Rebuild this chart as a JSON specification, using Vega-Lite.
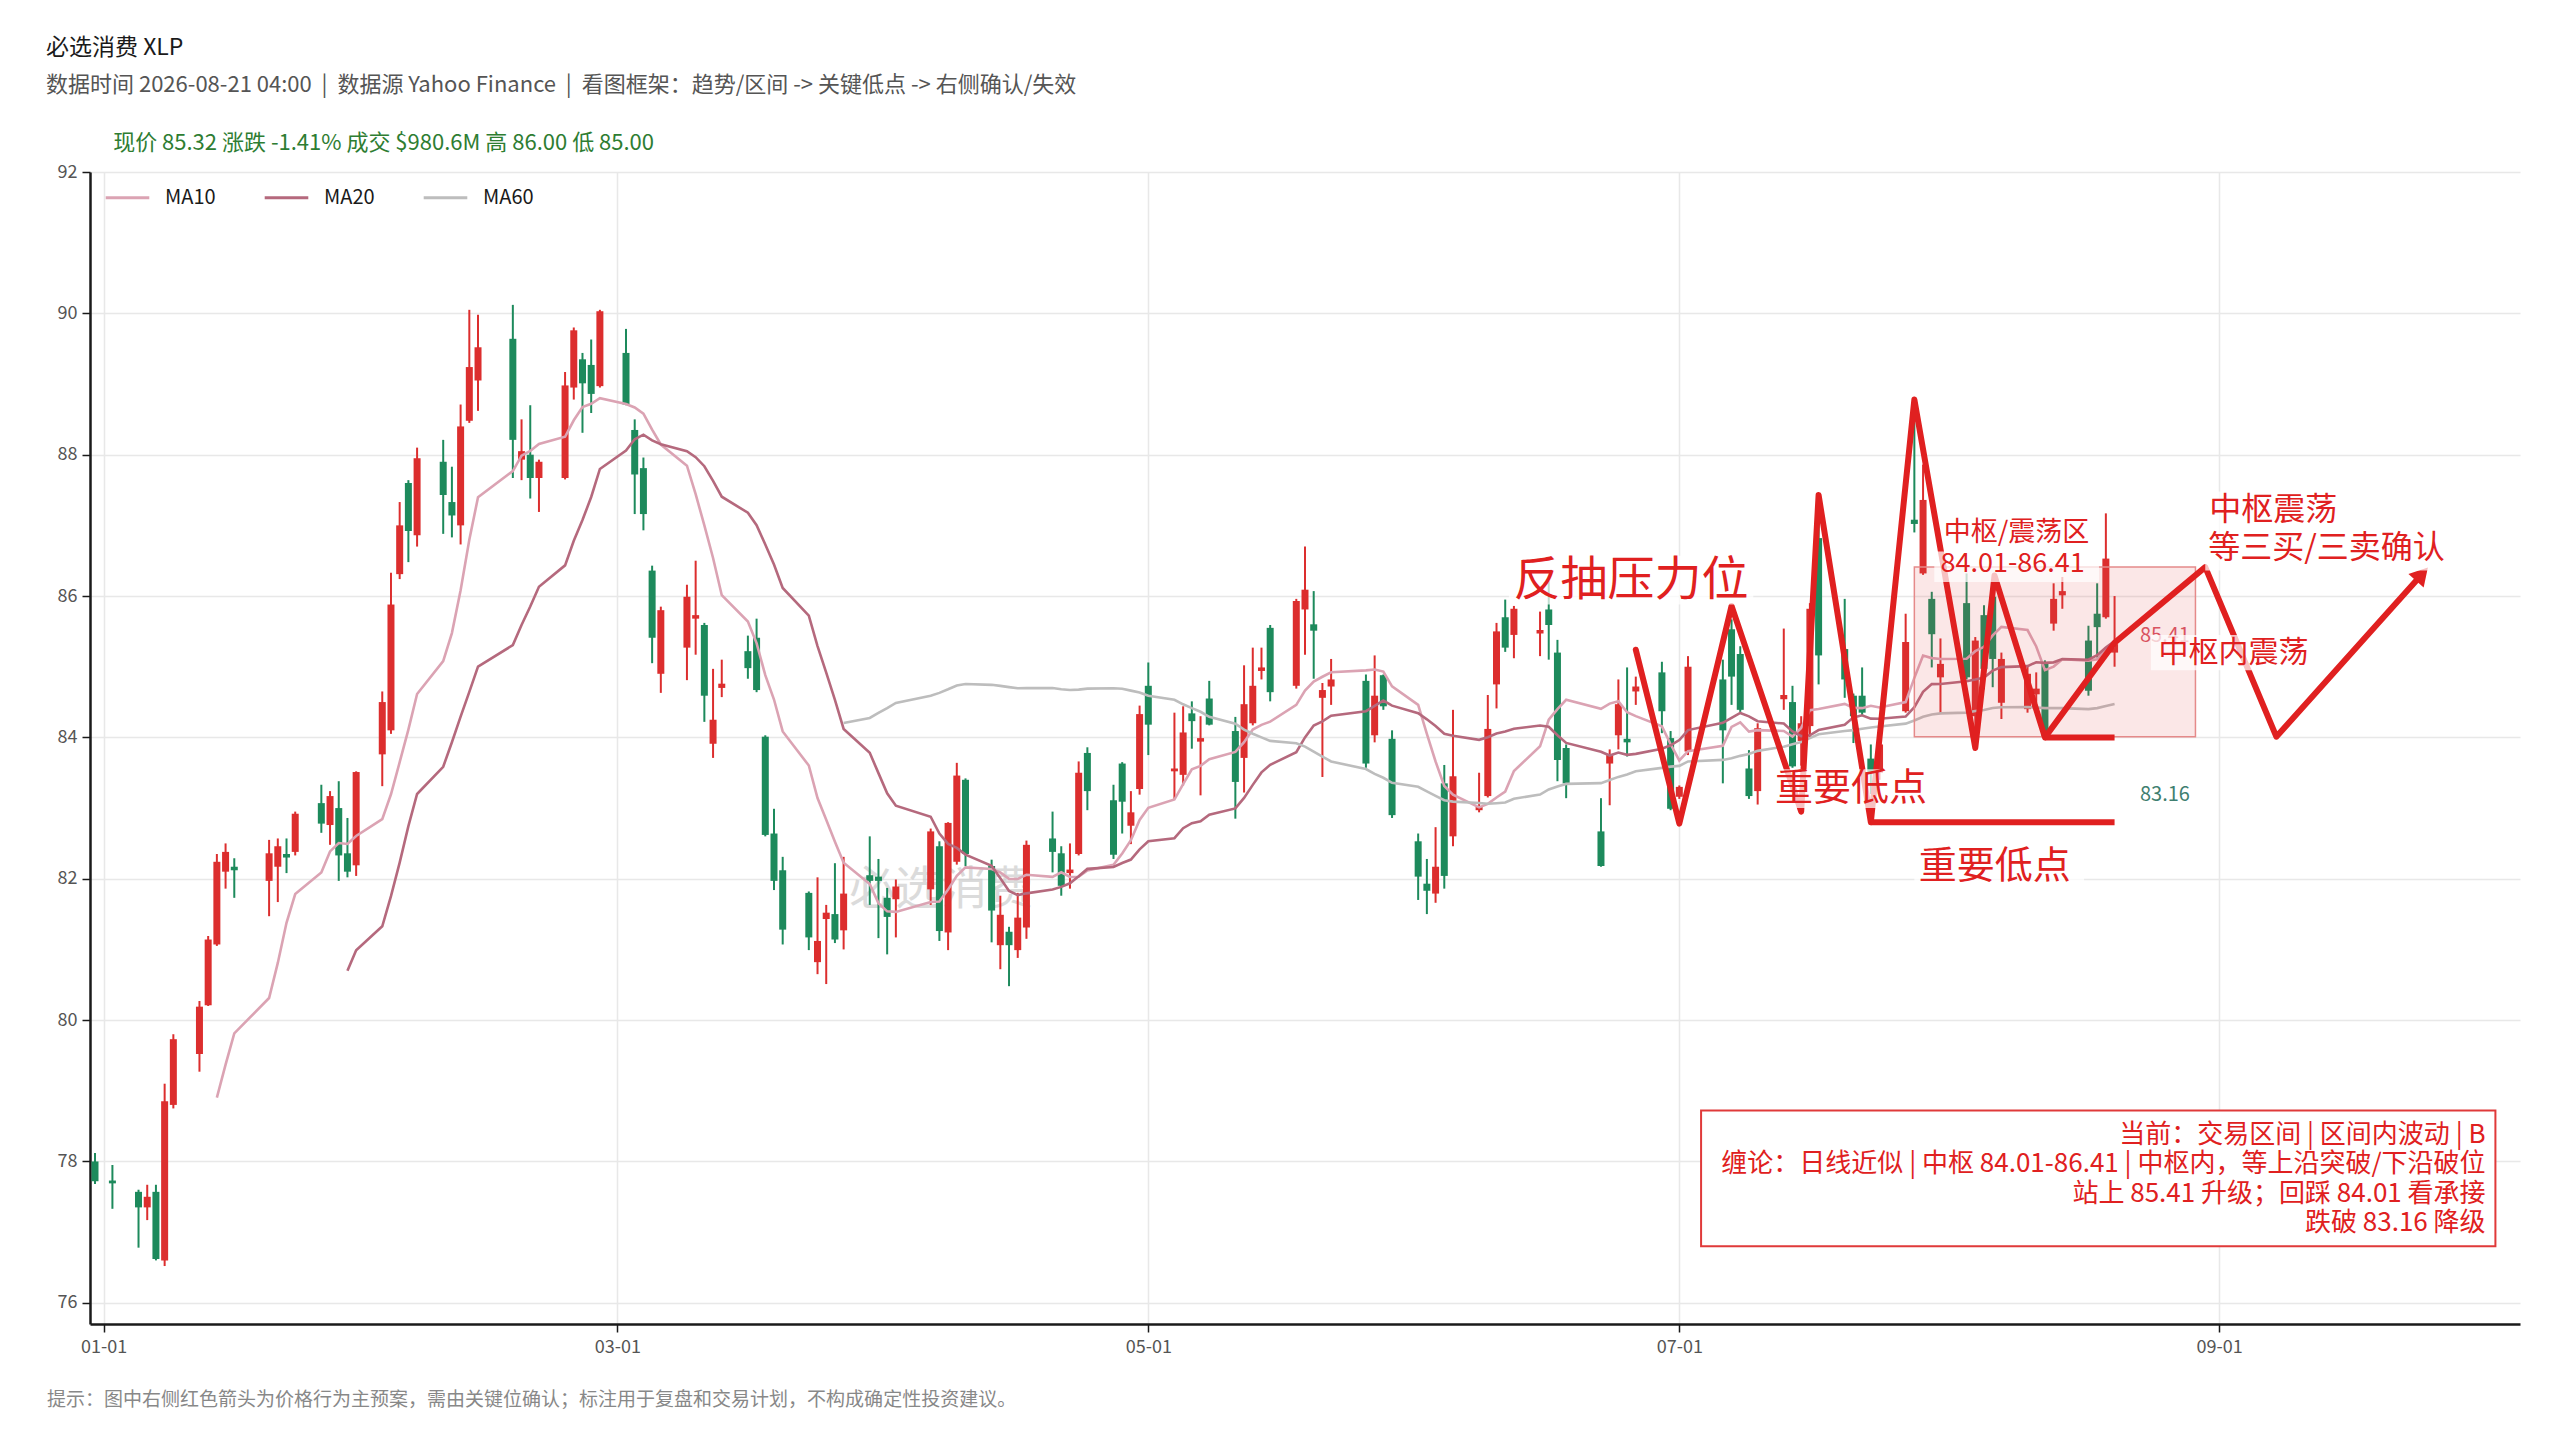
{
  "$schema": "https://vega.github.io/schema/vega-lite/v6.json",
  "width": 2430,
  "height": 1152,
  "autosize": "none",
  "padding": {"left": 90, "top": 172, "right": 40, "bottom": 116},
  "background": "white",
  "config": {
    "font": "Noto Sans CJK SC",
    "view": {"stroke": null},
    "axis": {
      "grid": true, "gridColor": "#e8e8e8", "gridWidth": 1.5,
      "domainColor": "#1a1a1a", "domainWidth": 2.5,
      "tickColor": "#1a1a1a", "tickSize": 8, "tickWidth": 1.5,
      "labelFontSize": 18, "labelColor": "#555555", "labelPadding": 5
    }
  },
  "title": {
    "text": "必选消费 XLP",
    "subtitle": "数据时间 2026-08-21 04:00\u00a0\u00a0|\u00a0\u00a0数据源 Yahoo Finance\u00a0\u00a0|\u00a0\u00a0看图框架：趋势/区间 -> 关键低点 -> 右侧确认/失效",
    "anchor": "start", "frame": "group", "dx": -44, "offset": 36,
    "fontSize": 23, "fontWeight": "normal", "color": "#1a1a1a",
    "subtitleFontSize": 22, "subtitleColor": "#555555", "subtitlePadding": 15
  },
  "datasets": {
    "k": [
      {"d": "2025-12-31", "o": 78.0, "h": 78.12, "l": 77.68, "c": 77.72},
      {"d": "2026-01-02", "o": 77.73, "h": 77.95, "l": 77.33, "c": 77.69},
      {"d": "2026-01-05", "o": 77.57, "h": 77.6, "l": 76.78, "c": 77.35},
      {"d": "2026-01-06", "o": 77.35, "h": 77.67, "l": 77.17, "c": 77.5},
      {"d": "2026-01-07", "o": 77.57, "h": 77.67, "l": 76.6, "c": 76.62},
      {"d": "2026-01-08", "o": 76.6, "h": 79.1, "l": 76.52, "c": 78.85},
      {"d": "2026-01-09", "o": 78.8, "h": 79.8, "l": 78.75, "c": 79.73},
      {"d": "2026-01-12", "o": 79.52, "h": 80.27, "l": 79.27, "c": 80.19},
      {"d": "2026-01-13", "o": 80.21, "h": 81.19, "l": 80.2, "c": 81.14},
      {"d": "2026-01-14", "o": 81.07, "h": 82.35, "l": 81.05, "c": 82.24},
      {"d": "2026-01-15", "o": 82.1, "h": 82.5, "l": 81.86, "c": 82.38},
      {"d": "2026-01-16", "o": 82.17, "h": 82.29, "l": 81.73, "c": 82.12},
      {"d": "2026-01-20", "o": 81.97, "h": 82.55, "l": 81.47, "c": 82.36},
      {"d": "2026-01-21", "o": 82.17, "h": 82.57, "l": 81.67, "c": 82.46},
      {"d": "2026-01-22", "o": 82.35, "h": 82.57, "l": 82.08, "c": 82.3},
      {"d": "2026-01-23", "o": 82.38, "h": 82.95, "l": 82.33, "c": 82.92},
      {"d": "2026-01-26", "o": 83.07, "h": 83.33, "l": 82.65, "c": 82.78},
      {"d": "2026-01-27", "o": 82.76, "h": 83.24, "l": 82.48, "c": 83.17},
      {"d": "2026-01-28", "o": 83.0, "h": 83.38, "l": 81.97, "c": 82.33},
      {"d": "2026-01-29", "o": 82.36, "h": 82.86, "l": 82.02, "c": 82.1},
      {"d": "2026-01-30", "o": 82.19, "h": 83.52, "l": 82.04, "c": 83.51},
      {"d": "2026-02-02", "o": 83.76, "h": 84.65, "l": 83.31, "c": 84.5},
      {"d": "2026-02-03", "o": 84.1, "h": 86.33, "l": 84.05, "c": 85.88},
      {"d": "2026-02-04", "o": 86.31, "h": 87.33, "l": 86.24, "c": 87.0},
      {"d": "2026-02-05", "o": 87.6, "h": 87.64, "l": 86.48, "c": 86.92},
      {"d": "2026-02-06", "o": 86.86, "h": 88.1, "l": 86.7, "c": 87.95},
      {"d": "2026-02-09", "o": 87.9, "h": 88.21, "l": 86.88, "c": 87.43},
      {"d": "2026-02-10", "o": 87.33, "h": 87.83, "l": 86.83, "c": 87.14},
      {"d": "2026-02-11", "o": 87.0, "h": 88.71, "l": 86.73, "c": 88.4},
      {"d": "2026-02-12", "o": 88.48, "h": 90.05, "l": 88.45, "c": 89.24},
      {"d": "2026-02-13", "o": 89.05, "h": 89.98, "l": 88.62, "c": 89.52},
      {"d": "2026-02-17", "o": 89.64, "h": 90.12, "l": 87.67, "c": 88.21},
      {"d": "2026-02-18", "o": 87.93, "h": 88.5, "l": 87.64, "c": 88.05},
      {"d": "2026-02-19", "o": 88.0, "h": 88.7, "l": 87.38, "c": 87.67},
      {"d": "2026-02-20", "o": 87.67, "h": 87.93, "l": 87.19, "c": 87.9},
      {"d": "2026-02-23", "o": 87.67, "h": 89.17, "l": 87.65, "c": 88.98},
      {"d": "2026-02-24", "o": 88.95, "h": 89.8, "l": 88.78, "c": 89.76},
      {"d": "2026-02-25", "o": 89.35, "h": 89.44, "l": 88.31, "c": 89.01},
      {"d": "2026-02-26", "o": 89.27, "h": 89.63, "l": 88.59, "c": 88.86},
      {"d": "2026-02-27", "o": 88.97, "h": 90.05, "l": 88.95, "c": 90.03},
      {"d": "2026-03-02", "o": 89.44, "h": 89.78, "l": 88.7, "c": 88.71},
      {"d": "2026-03-03", "o": 88.35, "h": 88.5, "l": 87.16, "c": 87.72},
      {"d": "2026-03-04", "o": 87.81, "h": 87.96, "l": 86.93, "c": 87.16},
      {"d": "2026-03-05", "o": 86.36, "h": 86.43, "l": 85.05, "c": 85.41},
      {"d": "2026-03-06", "o": 84.9, "h": 85.85, "l": 84.63, "c": 85.8},
      {"d": "2026-03-09", "o": 85.27, "h": 86.16, "l": 84.81, "c": 85.99},
      {"d": "2026-03-10", "o": 85.68, "h": 86.5, "l": 85.17, "c": 85.73},
      {"d": "2026-03-11", "o": 85.59, "h": 85.62, "l": 84.22, "c": 84.59},
      {"d": "2026-03-12", "o": 83.91, "h": 84.97, "l": 83.71, "c": 84.25},
      {"d": "2026-03-13", "o": 84.7, "h": 85.1, "l": 84.57, "c": 84.76},
      {"d": "2026-03-16", "o": 85.22, "h": 85.44, "l": 84.83, "c": 84.98},
      {"d": "2026-03-17", "o": 85.41, "h": 85.68, "l": 84.64, "c": 84.67},
      {"d": "2026-03-18", "o": 84.01, "h": 84.03, "l": 82.6, "c": 82.62},
      {"d": "2026-03-19", "o": 82.64, "h": 82.99, "l": 81.84, "c": 81.97},
      {"d": "2026-03-20", "o": 82.12, "h": 82.31, "l": 81.07, "c": 81.28},
      {"d": "2026-03-23", "o": 81.8, "h": 81.82, "l": 80.99, "c": 81.17},
      {"d": "2026-03-24", "o": 80.82, "h": 82.02, "l": 80.65, "c": 81.12},
      {"d": "2026-03-25", "o": 81.43, "h": 81.63, "l": 80.51, "c": 81.52},
      {"d": "2026-03-26", "o": 81.5, "h": 82.22, "l": 81.09, "c": 81.14},
      {"d": "2026-03-27", "o": 81.27, "h": 82.31, "l": 81.0, "c": 81.79},
      {"d": "2026-03-30", "o": 82.05, "h": 82.6, "l": 81.63, "c": 81.97},
      {"d": "2026-03-31", "o": 82.03, "h": 82.28, "l": 81.16, "c": 81.97},
      {"d": "2026-04-01", "o": 81.73, "h": 81.87, "l": 80.93, "c": 81.46},
      {"d": "2026-04-02", "o": 81.71, "h": 81.99, "l": 81.17, "c": 81.89},
      {"d": "2026-04-06", "o": 81.85, "h": 82.71, "l": 81.63, "c": 82.67},
      {"d": "2026-04-07", "o": 82.46, "h": 82.53, "l": 81.12, "c": 81.26},
      {"d": "2026-04-08", "o": 81.24, "h": 82.8, "l": 80.99, "c": 82.79},
      {"d": "2026-04-09", "o": 82.24, "h": 83.64, "l": 82.2, "c": 83.46},
      {"d": "2026-04-10", "o": 83.4, "h": 83.42, "l": 82.18, "c": 82.35},
      {"d": "2026-04-13", "o": 82.18, "h": 82.27, "l": 81.1, "c": 81.55},
      {"d": "2026-04-14", "o": 81.06, "h": 81.76, "l": 80.72, "c": 81.49},
      {"d": "2026-04-15", "o": 81.25, "h": 81.32, "l": 80.48, "c": 81.06},
      {"d": "2026-04-16", "o": 80.99, "h": 81.8, "l": 80.88, "c": 81.45},
      {"d": "2026-04-17", "o": 81.31, "h": 82.54, "l": 81.15, "c": 82.48},
      {"d": "2026-04-20", "o": 82.57, "h": 82.95, "l": 82.09, "c": 82.38},
      {"d": "2026-04-21", "o": 82.36, "h": 82.46, "l": 81.76, "c": 81.9},
      {"d": "2026-04-22", "o": 82.08, "h": 82.5, "l": 81.86, "c": 82.13},
      {"d": "2026-04-23", "o": 82.35, "h": 83.66, "l": 82.33, "c": 83.5},
      {"d": "2026-04-24", "o": 83.78, "h": 83.86, "l": 82.97, "c": 83.24},
      {"d": "2026-04-27", "o": 83.11, "h": 83.33, "l": 82.28, "c": 82.34},
      {"d": "2026-04-28", "o": 83.63, "h": 83.65, "l": 82.64, "c": 83.09},
      {"d": "2026-04-29", "o": 82.75, "h": 83.24, "l": 82.49, "c": 82.94},
      {"d": "2026-04-30", "o": 83.27, "h": 84.45, "l": 83.19, "c": 84.33},
      {"d": "2026-05-01", "o": 84.73, "h": 85.06, "l": 83.75, "c": 84.18},
      {"d": "2026-05-04", "o": 83.52, "h": 84.35, "l": 83.13, "c": 83.56},
      {"d": "2026-05-05", "o": 83.47, "h": 84.44, "l": 83.32, "c": 84.07},
      {"d": "2026-05-06", "o": 84.34, "h": 84.51, "l": 83.84, "c": 84.23},
      {"d": "2026-05-07", "o": 83.94, "h": 84.3, "l": 83.18, "c": 83.99},
      {"d": "2026-05-08", "o": 84.55, "h": 84.8, "l": 84.17, "c": 84.18},
      {"d": "2026-05-11", "o": 84.09, "h": 84.29, "l": 82.85, "c": 83.37},
      {"d": "2026-05-12", "o": 83.71, "h": 85.02, "l": 83.22, "c": 84.47},
      {"d": "2026-05-13", "o": 84.2, "h": 85.27, "l": 84.17, "c": 84.73},
      {"d": "2026-05-14", "o": 84.94, "h": 85.27, "l": 84.82, "c": 84.99},
      {"d": "2026-05-15", "o": 85.55, "h": 85.59, "l": 84.51, "c": 84.64},
      {"d": "2026-05-18", "o": 84.73, "h": 85.96, "l": 84.69, "c": 85.93},
      {"d": "2026-05-19", "o": 85.81, "h": 86.7, "l": 85.17, "c": 86.09},
      {"d": "2026-05-20", "o": 85.6, "h": 86.07, "l": 84.83, "c": 85.51},
      {"d": "2026-05-21", "o": 84.56, "h": 84.77, "l": 83.44, "c": 84.67},
      {"d": "2026-05-22", "o": 84.72, "h": 85.11, "l": 84.46, "c": 84.82},
      {"d": "2026-05-26", "o": 84.8, "h": 84.89, "l": 83.57, "c": 83.63},
      {"d": "2026-05-27", "o": 84.03, "h": 85.16, "l": 83.93, "c": 84.59},
      {"d": "2026-05-28", "o": 84.88, "h": 84.89, "l": 84.39, "c": 84.44},
      {"d": "2026-05-29", "o": 83.98, "h": 84.1, "l": 82.86, "c": 82.9},
      {"d": "2026-06-01", "o": 82.53, "h": 82.64, "l": 81.7, "c": 82.03},
      {"d": "2026-06-02", "o": 81.93, "h": 82.28, "l": 81.5, "c": 81.83},
      {"d": "2026-06-03", "o": 81.79, "h": 82.73, "l": 81.66, "c": 82.17},
      {"d": "2026-06-04", "o": 83.35, "h": 83.61, "l": 81.86, "c": 82.04},
      {"d": "2026-06-05", "o": 82.6, "h": 84.39, "l": 82.46, "c": 83.45},
      {"d": "2026-06-08", "o": 82.97, "h": 83.5, "l": 82.94, "c": 83.02},
      {"d": "2026-06-09", "o": 83.17, "h": 84.6, "l": 83.15, "c": 84.12},
      {"d": "2026-06-10", "o": 84.75, "h": 85.62, "l": 84.41, "c": 85.5},
      {"d": "2026-06-11", "o": 85.7, "h": 85.95, "l": 85.21, "c": 85.27},
      {"d": "2026-06-12", "o": 85.45, "h": 85.86, "l": 85.12, "c": 85.82},
      {"d": "2026-06-15", "o": 85.47, "h": 85.78, "l": 85.15, "c": 85.52},
      {"d": "2026-06-16", "o": 85.81, "h": 86.21, "l": 85.1, "c": 85.59},
      {"d": "2026-06-17", "o": 85.2, "h": 85.38, "l": 83.38, "c": 83.68},
      {"d": "2026-06-18", "o": 83.85, "h": 83.9, "l": 83.14, "c": 83.35},
      {"d": "2026-06-22", "o": 82.67, "h": 83.14, "l": 82.17, "c": 82.18},
      {"d": "2026-06-23", "o": 83.63, "h": 83.83, "l": 83.04, "c": 83.75},
      {"d": "2026-06-24", "o": 84.03, "h": 84.82, "l": 83.83, "c": 84.47},
      {"d": "2026-06-25", "o": 83.98, "h": 84.99, "l": 83.73, "c": 83.93},
      {"d": "2026-06-26", "o": 84.65, "h": 84.86, "l": 84.46, "c": 84.72},
      {"d": "2026-06-29", "o": 84.92, "h": 85.07, "l": 84.06, "c": 84.37},
      {"d": "2026-06-30", "o": 83.99, "h": 84.09, "l": 82.97, "c": 82.99},
      {"d": "2026-07-01", "o": 83.16, "h": 83.32, "l": 83.13, "c": 83.3},
      {"d": "2026-07-02", "o": 83.8, "h": 85.15, "l": 83.75, "c": 85.0},
      {"d": "2026-07-06", "o": 84.82, "h": 85.1, "l": 83.35, "c": 84.1},
      {"d": "2026-07-07", "o": 85.53, "h": 85.67, "l": 84.46, "c": 84.86},
      {"d": "2026-07-08", "o": 85.18, "h": 85.29, "l": 84.36, "c": 84.39},
      {"d": "2026-07-09", "o": 83.56, "h": 83.82, "l": 83.13, "c": 83.17},
      {"d": "2026-07-10", "o": 83.24, "h": 84.2, "l": 83.05, "c": 84.13},
      {"d": "2026-07-13", "o": 84.54, "h": 85.54, "l": 84.39, "c": 84.6},
      {"d": "2026-07-14", "o": 84.5, "h": 84.73, "l": 83.57, "c": 83.59},
      {"d": "2026-07-15", "o": 83.95, "h": 84.3, "l": 83.6, "c": 84.2},
      {"d": "2026-07-16", "o": 84.16, "h": 85.9, "l": 84.0, "c": 85.82},
      {"d": "2026-07-17", "o": 86.82, "h": 87.2, "l": 84.75, "c": 85.16},
      {"d": "2026-07-20", "o": 85.25, "h": 85.96, "l": 84.56, "c": 84.82},
      {"d": "2026-07-21", "o": 84.59, "h": 84.62, "l": 83.92, "c": 84.3},
      {"d": "2026-07-22", "o": 84.59, "h": 84.99, "l": 84.3, "c": 84.35},
      {"d": "2026-07-23", "o": 83.7, "h": 83.9, "l": 83.2, "c": 83.5},
      {"d": "2026-07-24", "o": 83.5, "h": 84.1, "l": 83.4, "c": 83.9},
      {"d": "2026-07-27", "o": 84.37, "h": 85.75, "l": 84.35, "c": 85.35},
      {"d": "2026-07-28", "o": 87.08, "h": 88.5, "l": 86.9, "c": 87.02},
      {"d": "2026-07-29", "o": 86.32, "h": 87.86, "l": 86.3, "c": 87.36},
      {"d": "2026-07-30", "o": 85.96, "h": 86.06, "l": 84.99, "c": 85.46},
      {"d": "2026-07-31", "o": 84.85, "h": 85.4, "l": 84.33, "c": 85.04},
      {"d": "2026-08-03", "o": 85.9, "h": 86.32, "l": 84.82, "c": 84.85},
      {"d": "2026-08-04", "o": 84.3, "h": 85.42, "l": 83.97, "c": 85.37},
      {"d": "2026-08-05", "o": 85.73, "h": 85.87, "l": 84.68, "c": 84.97},
      {"d": "2026-08-06", "o": 85.99, "h": 86.2, "l": 84.71, "c": 85.11},
      {"d": "2026-08-07", "o": 84.49, "h": 85.2, "l": 84.26, "c": 85.11},
      {"d": "2026-08-10", "o": 84.4, "h": 85.0, "l": 84.35, "c": 84.9},
      {"d": "2026-08-11", "o": 84.61, "h": 84.92, "l": 84.49, "c": 84.69},
      {"d": "2026-08-12", "o": 85.06, "h": 85.09, "l": 84.0, "c": 84.02},
      {"d": "2026-08-13", "o": 85.61, "h": 86.18, "l": 85.51, "c": 85.96},
      {"d": "2026-08-14", "o": 86.01, "h": 86.27, "l": 85.82, "c": 86.07},
      {"d": "2026-08-17", "o": 85.37, "h": 85.58, "l": 84.59, "c": 84.66},
      {"d": "2026-08-18", "o": 85.75, "h": 86.18, "l": 85.13, "c": 85.56},
      {"d": "2026-08-19", "o": 85.7, "h": 87.17, "l": 85.68, "c": 86.53},
      {"d": "2026-08-20", "o": 85.2, "h": 86.0, "l": 85.0, "c": 85.32}
    ],
    "path": [
      {"i": 0, "d": "2026-06-26", "p": 85.24},
      {"i": 1, "d": "2026-07-01", "p": 82.78},
      {"i": 2, "d": "2026-07-07", "p": 85.86},
      {"i": 3, "d": "2026-07-15", "p": 82.95},
      {"i": 4, "d": "2026-07-17", "p": 87.43},
      {"i": 5, "d": "2026-07-23", "p": 82.8},
      {"i": 6, "d": "2026-07-28", "p": 88.78},
      {"i": 7, "d": "2026-08-04", "p": 83.85},
      {"i": 8, "d": "2026-08-06T05:00:00Z", "p": 86.29},
      {"i": 9, "d": "2026-08-12", "p": 84.0},
      {"i": 10, "d": "2026-08-20", "p": 85.34},
      {"i": 11, "d": "2026-08-30T10:00:00Z", "p": 86.41},
      {"i": 12, "d": "2026-09-07T14:00:00Z", "p": 84.01},
      {"i": 13, "d": "2026-09-24T07:30:00Z", "p": 86.31}
    ]
  },
  "layer": [
    {
      "data": {"values": [{"d": "2026-04-07T05:00:00Z", "p": 81.84, "t": "必选消费"}]},
      "mark": {"type": "text", "fontSize": 46, "color": "#c4c4c4", "opacity": 0.6, "align": "center", "baseline": "middle"},
      "encoding": {
        "x": {
          "field": "d", "type": "temporal", "title": null,
          "scale": {"type": "utc", "domain": [{"year": 2025, "month": 12, "date": 31, "utc": true}, {"year": 2026, "month": 10, "date": 5, "utc": true}]},
          "axis": {
            "values": [
              {"year": 2026, "month": 1, "date": 1, "utc": true},
              {"year": 2026, "month": 3, "date": 1, "utc": true},
              {"year": 2026, "month": 5, "date": 1, "utc": true},
              {"year": 2026, "month": 7, "date": 1, "utc": true},
              {"year": 2026, "month": 9, "date": 1, "utc": true}
            ],
            "labelExpr": "utcFormat(datum.value, '%m-%d')", "labelPadding": 6
          }
        },
        "y": {
          "field": "p", "type": "quantitative", "title": null,
          "scale": {"domain": [75.7, 92], "nice": false, "zero": false},
          "axis": {"values": [76, 78, 80, 82, 84, 86, 88, 90, 92], "format": "d", "labelPadding": 5}
        },
        "text": {"field": "t"}
      }
    },
    {
      "data": {"name": "k"},
      "mark": {"type": "rule", "strokeWidth": 2, "clip": true},
      "encoding": {
        "x": {"field": "d", "type": "temporal", "title": null},
        "y": {"field": "l", "type": "quantitative", "title": null},
        "y2": {"field": "h"},
        "color": {"condition": {"test": "datum.c >= datum.o", "value": "#dc2e2e"}, "value": "#1d8a5c"}
      }
    },
    {
      "data": {"name": "k"},
      "mark": {"type": "bar", "size": 7, "clip": true},
      "encoding": {
        "x": {"field": "d", "type": "temporal", "title": null},
        "y": {"field": "o", "type": "quantitative", "title": null},
        "y2": {"field": "c"},
        "color": {"condition": {"test": "datum.c >= datum.o", "value": "#dc2e2e"}, "value": "#1d8a5c"}
      }
    },
    {
      "data": {"name": "k"},
      "transform": [
        {"window": [{"op": "mean", "field": "c", "as": "MA10"}, {"op": "count", "as": "n10"}], "frame": [-9, 0]},
        {"window": [{"op": "mean", "field": "c", "as": "MA20"}, {"op": "count", "as": "n20"}], "frame": [-19, 0]},
        {"window": [{"op": "mean", "field": "c", "as": "MA60"}, {"op": "count", "as": "n60"}], "frame": [-59, 0]},
        {"fold": ["MA10", "MA20", "MA60"], "as": ["ma", "v"]},
        {"filter": "(datum.ma == 'MA10' && datum.n10 >= 10) || (datum.ma == 'MA20' && datum.n20 >= 20) || (datum.ma == 'MA60' && datum.n60 >= 60)"}
      ],
      "mark": {"type": "line", "strokeWidth": 2.6},
      "encoding": {
        "x": {"field": "d", "type": "temporal", "title": null},
        "y": {"field": "v", "type": "quantitative", "title": null},
        "color": {
          "field": "ma", "type": "nominal",
          "scale": {"domain": ["MA10", "MA20", "MA60"], "range": ["#dba3b3", "#b5697d", "#bdbdbd"]},
          "legend": {
            "orient": "none", "legendX": 14, "legendY": 2, "direction": "horizontal", "title": null,
            "symbolType": "stroke", "symbolSize": 1900, "symbolStrokeWidth": 3,
            "labelFontSize": 20, "labelColor": "#1a1a1a", "labelOffset": 14, "columnPadding": 42
          }
        }
      }
    },
    {
      "mark": {"type": "rule", "color": "#e05a66", "strokeWidth": 2.5},
      "encoding": {"y": {"datum": 85.41, "type": "quantitative"}}
    },
    {
      "mark": {"type": "rule", "color": "#8dbfae", "strokeWidth": 2.5},
      "encoding": {"y": {"datum": 83.16, "type": "quantitative"}}
    },
    {
      "data": {"values": [{"d": "2026-07-28", "d2": "2026-08-29T07:00:00Z", "p": 84.01, "p2": 86.41}]},
      "mark": {"type": "rect", "fill": "#e04848", "fillOpacity": 0.13, "stroke": "#e58a8a", "strokeWidth": 1.5},
      "encoding": {
        "x": {"field": "d", "type": "temporal", "title": null},
        "x2": {"field": "d2"},
        "y": {"field": "p", "type": "quantitative", "title": null},
        "y2": {"field": "p2"}
      }
    },
    {
      "data": {"name": "path"},
      "mark": {"type": "line", "color": "#e02020", "strokeWidth": 6, "strokeJoin": "round", "strokeCap": "round"},
      "encoding": {
        "x": {"field": "d", "type": "temporal", "title": null},
        "y": {"field": "p", "type": "quantitative", "title": null},
        "order": {"field": "i"}
      }
    },
    {
      "data": {"values": [
        {"d": "2026-07-23", "d2": "2026-08-20", "p": 82.8},
        {"d": "2026-08-12", "d2": "2026-08-20", "p": 84.0}
      ]},
      "mark": {"type": "rule", "color": "#e02020", "strokeWidth": 6},
      "encoding": {
        "x": {"field": "d", "type": "temporal", "title": null},
        "x2": {"field": "d2"},
        "y": {"field": "p", "type": "quantitative", "title": null}
      }
    },
    {
      "data": {"values": [{"d": "2026-09-24T07:30:00Z", "p": 86.31}]},
      "mark": {"type": "point", "shape": "triangle-up", "angle": 42, "size": 420, "filled": true, "color": "#e02020", "opacity": 1},
      "encoding": {
        "x": {"field": "d", "type": "temporal", "title": null},
        "y": {"field": "p", "type": "quantitative", "title": null}
      }
    },
    {
      "data": {"values": [{"d": "2026-08-22T22:00:00Z", "p": 85.44, "t": "85.41"}]},
      "mark": {"type": "text", "fontSize": 20, "color": "#d9535f", "align": "left", "baseline": "middle"},
      "encoding": {
        "x": {"field": "d", "type": "temporal", "title": null},
        "y": {"field": "p", "type": "quantitative", "title": null},
        "text": {"field": "t"}
      }
    },
    {
      "data": {"values": [{"d": "2026-08-22T22:00:00Z", "p": 83.18, "t": "83.16"}]},
      "mark": {"type": "text", "fontSize": 20, "color": "#3f7f70", "align": "left", "baseline": "middle"},
      "encoding": {
        "x": {"field": "d", "type": "temporal", "title": null},
        "y": {"field": "p", "type": "quantitative", "title": null},
        "text": {"field": "t"}
      }
    },
    {
      "data": {"values": [
        {"d": "2026-06-11T10:00:00Z", "d2": "2026-07-09T12:00:00Z", "p": 85.88, "p2": 86.57},
        {"d": "2026-07-11T14:00:00Z", "d2": "2026-07-30T02:00:00Z", "p": 83.0, "p2": 83.55},
        {"d": "2026-07-28", "d2": "2026-08-16T12:00:00Z", "p": 81.9, "p2": 82.45},
        {"d": "2026-07-30T07:00:00Z", "d2": "2026-08-18T05:00:00Z", "p": 86.2, "p2": 86.63},
        {"d": "2026-08-30T10:00:00Z", "d2": "2026-09-27T14:00:00Z", "p": 86.36, "p2": 87.48},
        {"d": "2026-08-24T04:00:00Z", "d2": "2026-09-11T19:00:00Z", "p": 84.95, "p2": 85.45}
      ]},
      "mark": {"type": "rect", "fill": "white", "fillOpacity": 0.72},
      "encoding": {
        "x": {"field": "d", "type": "temporal", "title": null},
        "x2": {"field": "d2"},
        "y": {"field": "p", "type": "quantitative", "title": null},
        "y2": {"field": "p2"}
      }
    },
    {
      "data": {"values": [{"d": "2026-06-25T11:00:00Z", "p": 86.21, "t": "反抽压力位"}]},
      "mark": {"type": "text", "fontSize": 47, "color": "#e02020", "align": "center", "baseline": "middle"},
      "encoding": {
        "x": {"field": "d", "type": "temporal", "title": null},
        "y": {"field": "p", "type": "quantitative", "title": null},
        "text": {"field": "t"}
      }
    },
    {
      "data": {"values": [
        {"d": "2026-07-12", "p": 83.27, "t": "重要低点"},
        {"d": "2026-07-28T12:00:00Z", "p": 82.17, "t": "重要低点"}
      ]},
      "mark": {"type": "text", "fontSize": 38, "color": "#e02020", "align": "left", "baseline": "middle"},
      "encoding": {
        "x": {"field": "d", "type": "temporal", "title": null},
        "y": {"field": "p", "type": "quantitative", "title": null},
        "text": {"field": "t"}
      }
    },
    {
      "data": {"values": [
        {"d": "2026-07-31T09:00:00Z", "p": 86.89, "t": "中枢/震荡区"},
        {"d": "2026-07-31", "p": 86.46, "t": "84.01-86.41"}
      ]},
      "mark": {"type": "text", "fontSize": 27, "color": "#e02020", "align": "left", "baseline": "middle"},
      "encoding": {
        "x": {"field": "d", "type": "temporal", "title": null},
        "y": {"field": "p", "type": "quantitative", "title": null},
        "text": {"field": "t"}
      }
    },
    {
      "data": {"values": [
        {"d": "2026-08-30T21:00:00Z", "p": 87.22, "t": "中枢震荡"},
        {"d": "2026-08-30T18:00:00Z", "p": 86.68, "t": "等三买/三卖确认"}
      ]},
      "mark": {"type": "text", "fontSize": 32, "color": "#e02020", "align": "left", "baseline": "middle"},
      "encoding": {
        "x": {"field": "d", "type": "temporal", "title": null},
        "y": {"field": "p", "type": "quantitative", "title": null},
        "text": {"field": "t"}
      }
    },
    {
      "data": {"values": [{"d": "2026-08-25T01:00:00Z", "p": 85.19, "t": "中枢内震荡"}]},
      "mark": {"type": "text", "fontSize": 30, "color": "#e02020", "align": "left", "baseline": "middle"},
      "encoding": {
        "x": {"field": "d", "type": "temporal", "title": null},
        "y": {"field": "p", "type": "quantitative", "title": null},
        "text": {"field": "t"}
      }
    },
    {
      "data": {"values": [{"d": "2026-07-03T12:00:00Z", "d2": "2026-10-02T18:00:00Z", "p": 76.8, "p2": 78.72}]},
      "mark": {"type": "rect", "fill": "white", "stroke": "#e03a3a", "strokeWidth": 2},
      "encoding": {
        "x": {"field": "d", "type": "temporal", "title": null},
        "x2": {"field": "d2"},
        "y": {"field": "p", "type": "quantitative", "title": null},
        "y2": {"field": "p2"}
      }
    },
    {
      "data": {"values": [
        {"d": "2026-10-01T15:00:00Z", "p": 78.38, "t": "当前：交易区间 | 区间内波动 | B"},
        {"d": "2026-10-01T15:00:00Z", "p": 77.96, "t": "缠论：日线近似 | 中枢 84.01-86.41 | 中枢内，等上沿突破/下沿破位"},
        {"d": "2026-10-01T15:00:00Z", "p": 77.54, "t": "站上 85.41 升级；回踩 84.01 看承接"},
        {"d": "2026-10-01T15:00:00Z", "p": 77.13, "t": "跌破 83.16 降级"}
      ]},
      "mark": {"type": "text", "fontSize": 26, "color": "#e02020", "align": "right", "baseline": "middle"},
      "encoding": {
        "x": {"field": "d", "type": "temporal", "title": null},
        "y": {"field": "p", "type": "quantitative", "title": null},
        "text": {"field": "t"}
      }
    },
    {
      "data": {"values": [{"d": "2026-01-02T02:00:00Z", "p": 92.41, "t": "现价 85.32 涨跌 -1.41% 成交 $980.6M 高 86.00 低 85.00"}]},
      "mark": {"type": "text", "fontSize": 22, "color": "#2e7d32", "align": "left", "baseline": "middle"},
      "encoding": {
        "x": {"field": "d", "type": "temporal", "title": null},
        "y": {"field": "p", "type": "quantitative", "title": null},
        "text": {"field": "t"}
      }
    },
    {
      "data": {"values": [{"d": "2025-12-25T12:00:00Z", "p": 74.63, "t": "提示：图中右侧红色箭头为价格行为主预案，需由关键位确认；标注用于复盘和交易计划，不构成确定性投资建议。"}]},
      "mark": {"type": "text", "fontSize": 19, "color": "#888888", "align": "left", "baseline": "middle"},
      "encoding": {
        "x": {"field": "d", "type": "temporal", "title": null},
        "y": {"field": "p", "type": "quantitative", "title": null},
        "text": {"field": "t"}
      }
    }
  ]
}
